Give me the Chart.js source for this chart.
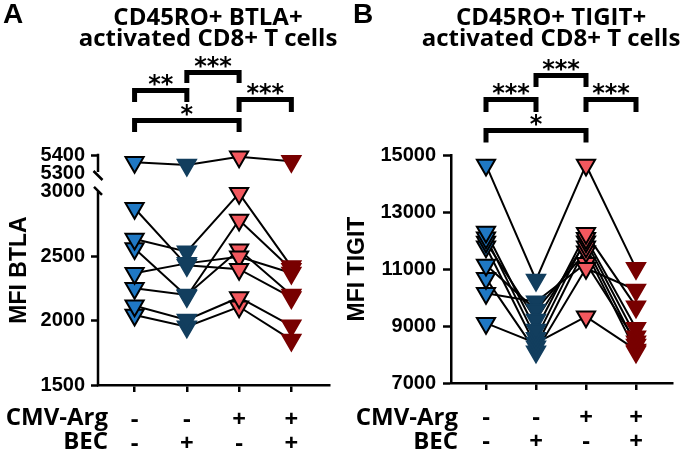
<!DOCTYPE html>
<html><head><meta charset="utf-8">
<script src="https://cdn.jsdelivr.net/npm/chart.js@4"></script>
<style>
html,body{margin:0;padding:0;background:#fff;}
#wrap{position:relative;width:685px;height:455px;overflow:hidden;background:#fff;}
canvas{position:absolute;top:0;}
#ca{left:0;} #cb{left:342px;}
</style></head><body>
<div id="wrap">
<canvas id="ca" width="342" height="455"></canvas>
<canvas id="cb" width="343" height="455"></canvas>
</div>
<script>
// ---------- data ----------
const categories = [0, 1, 2, 3];
const cmvArg = ['-', '-', '+', '+'];
const bec = ['-', '+', '-', '+'];
const rowNames = ['CMV-Arg', 'BEC'];

// Panel A: MFI BTLA (one subject sits above the axis break)
const btlaHigh = [
  [5360, 5345, 5390, 5365]
];
const btlaLow = [
  [2873, 2430, 2400, 2180],
  [2634, 2536, 2989, 2420],
  [2560, 2190, 2782, 2400],
  [2368, 2445, 2497, 2370],
  [2251, 2200, 2550, 2200],
  [2116, 2005, 2180, 1960],
  [2044, 1953, 2108, 1850]
];
const btlaTicks = [1500, 2000, 2500, 3000];
const btlaHighTicks = [5300, 5400];

// Panel B: MFI TIGIT
const tigit = [
  [14650, 10614, 14650, 11024],
  [12300, 8860, 12252, 9678],
  [12100, 8567, 12076, 8918],
  [11950, 9210, 11958, 8625],
  [11780, 8275, 11783, 8333],
  [11140, 9561, 11607, 8100],
  [10673, 8100, 11024, 10263],
  [10150, 9853, 11200, 8450],
  [9100, 8400, 9327, 8160]
];
const tigitTicks = [7000, 9000, 11000, 13000, 15000];

const fillColors = ['#1f78c4', '#123e5e', '#f2585e', '#780000'];
const edgeColors = ['#000000', '#123e5e', '#000000', '#780000'];

const sigA = [
  {from: 0, to: 1, label: '**'},
  {from: 1, to: 2, label: '***'},
  {from: 2, to: 3, label: '***'},
  {from: 0, to: 2, label: '*'}
];
const sigB = [
  {from: 0, to: 1, label: '***'},
  {from: 1, to: 2, label: '***'},
  {from: 2, to: 3, label: '***'},
  {from: 0, to: 2, label: '*'}
];

// ---------- helpers ----------
const TICK_FONT = {family: "'Liberation Sans', Arial, sans-serif", size: 20, weight: 'bold'};
const AXTITLE_FONT = {family: "'Liberation Sans', Arial, sans-serif", size: 23, weight: 'bold'};

function subjectDatasets(rows, axis) {
  const out = [];
  rows.forEach(r => {
    const pts = r.map((v, i) => ({x: categories[i], y: v}));
    out.push({data: pts, yAxisID: axis, showLine: true, borderColor: '#000', borderWidth: 2,
      pointRadius: 0, order: 2, clip: false});
    out.push({data: pts, yAxisID: axis, showLine: false, pointStyle: 'triangle', pointRotation: 180,
      pointRadius: 10.5, pointBackgroundColor: fillColors, pointBorderColor: edgeColors,
      pointBorderWidth: 2, order: 1, clip: false});
  });
  return out;
}

function xScale(h) {
  return {
    type: 'linear', min: -0.7, max: 3.73,
    afterBuildTicks: s => { s.ticks = categories.map(v => ({value: v})); },
    afterFit: s => { s.height = h; },
    ticks: {autoSkip: false, maxRotation: 0, color: '#000', padding: 16,
      font: {family: "'Open Sans', sans-serif", size: 24, weight: 'bold', lineHeight: 1},
      callback: v => [cmvArg[v], bec[v]]},
    grid: {drawOnChartArea: false, color: '#000', tickLength: 7, tickWidth: 2.5, lineWidth: 2.5},
    border: {color: '#000', width: 2.5}
  };
}

const decor = {
  id: 'decor',
  afterDraw(chart, args, o) {
    const ctx = chart.ctx, xs = chart.scales.x, ca = chart.chartArea;
    ctx.save();
    ctx.fillStyle = '#000';
    ctx.strokeStyle = '#000';
    ctx.textBaseline = 'alphabetic';
    // panel letter
    ctx.textAlign = 'left';
    ctx.font = "bold 28px 'Liberation Sans', Arial, sans-serif";
    ctx.fillText(o.letter, o.letterX, 23);
    // title
    ctx.textAlign = 'center';
    ctx.font = "bold 24px 'Open Sans', sans-serif";
    o.title.forEach((t, i) => ctx.fillText(t, o.titleX, 25 + i * 21));
    // significance brackets
    ctx.lineWidth = 5;
    ctx.lineJoin = 'miter';
    ctx.lineCap = 'butt';
    o.brackets.forEach((b, i) => {
      const x1 = xs.getPixelForValue(b.from), x2 = xs.getPixelForValue(b.to);
      const top = o.bracketTops[i], bot = top + o.legLength[i];
      ctx.beginPath();
      ctx.moveTo(x1, bot); ctx.lineTo(x1, top); ctx.lineTo(x2, top); ctx.lineTo(x2, bot);
      ctx.stroke();
      ctx.font = "bold 24px 'DejaVu Sans', sans-serif";
      const m = ctx.measureText(b.label);
      ctx.fillText(b.label, (x1 + x2) / 2, top - 4.5 - m.actualBoundingBoxDescent);
    });
    // row labels for the condition table
    ctx.textAlign = 'right';
    ctx.font = "bold 24px 'Open Sans', sans-serif";
    o.rows.forEach((r, i) => ctx.fillText(r, ca.left + o.rowOffset, o.rowBaselines[i]));
    // broken y axis
    if (o.broken) {
      const yl = chart.scales.y, yt = chart.scales.yTop, x = ca.left;
      const yTopPix = yt.getPixelForValue(btlaHighTicks[btlaHighTicks.length - 1]);
      const yBreakHi = yt.getPixelForValue(btlaHighTicks[0]);
      const yBreakLo = yl.getPixelForValue(btlaTicks[btlaTicks.length - 1]);
      ctx.lineWidth = 2.5;
      ctx.beginPath();
      ctx.moveTo(x, yTopPix - 1.25); ctx.lineTo(x, yBreakHi - 1);
      ctx.moveTo(x - 4.5, yBreakHi - 2); ctx.lineTo(x + 4.5, yBreakHi + 7);
      ctx.moveTo(x - 4, yBreakLo - 5); ctx.lineTo(x + 4, yBreakLo + 3);
      ctx.moveTo(x, yBreakLo - 1); ctx.lineTo(x, ca.bottom + 1.25);
      ctx.stroke();
    }
    ctx.restore();
  }
};

function common(padRight) {
  return {
    responsive: false, animation: false, events: [],
    layout: {padding: {top: 155, left: 0, right: padRight, bottom: 0}},
    plugins: {legend: {display: false}, tooltip: {enabled: false}, title: {display: false}}
  };
}

// ---------- Panel A ----------
const optA = common(12);
optA.scales = {
  x: xScale(70),
  yTop: {
    type: 'linear', position: 'left', weight: 0, min: 4122, max: 5400,
    afterBuildTicks: s => { s.ticks = btlaHighTicks.map(v => ({value: v})); },
    afterFit: s => { s.width = 0; s._computeLabelArea = () => undefined; },
    ticks: {color: '#000', padding: 6, font: TICK_FONT, callback: v => String(v)},
    grid: {drawOnChartArea: false, color: '#000', tickLength: 7, tickWidth: 2.5,
      tickColor: c => (c.tick && c.tick.value === btlaHighTicks[0]) ? 'rgba(0,0,0,0)' : '#000'},
    border: {display: false}
  },
  y: {
    type: 'linear', position: 'left', weight: 1, min: 1500, max: 3287,
    afterBuildTicks: s => { s.ticks = btlaTicks.map(v => ({value: v})); },
    afterFit: s => { s.width = 98; },
    ticks: {color: '#000', padding: 6, font: TICK_FONT, callback: v => String(v)},
    grid: {drawOnChartArea: false, color: '#000', tickLength: 7, tickWidth: 2.5,
      tickColor: c => (c.tick && c.tick.value === btlaTicks[btlaTicks.length - 1]) ? 'rgba(0,0,0,0)' : '#000'},
    border: {display: false},
    title: {display: true, text: 'MFI BTLA', color: '#000', font: AXTITLE_FONT, padding: {top: 6, bottom: 0}}
  }
};
optA.plugins.decor = {
  letter: 'A', letterX: 3, title: ['CD45RO+ BTLA+', 'activated CD8+ T cells'], titleX: 208,
  brackets: sigA, bracketTops: [90.5, 72.5, 99.5, 120.5], legLength: [11.5, 10.5, 12.5, 11.5],
  rows: rowNames, rowOffset: 10, rowBaselines: [425, 449], broken: true
};
new Chart(document.getElementById('ca'), {
  type: 'scatter',
  data: {datasets: [...subjectDatasets(btlaHigh, 'yTop'), ...subjectDatasets(btlaLow, 'y')]},
  options: optA,
  plugins: [decor]
});

// ---------- Panel B ----------
const optB = common(1);
optB.scales = {
  x: xScale(72),
  y: {
    type: 'linear', position: 'left', min: 7000, max: 15000,
    afterBuildTicks: s => { s.ticks = tigitTicks.map(v => ({value: v})); },
    afterFit: s => { s.width = 109; },
    ticks: {color: '#000', padding: 7, font: TICK_FONT, callback: v => String(v)},
    grid: {drawOnChartArea: false, color: '#000', tickLength: 8, tickWidth: 2.5},
    border: {color: '#000', width: 2.5},
    title: {display: true, text: 'MFI TIGIT', color: '#000', font: AXTITLE_FONT, padding: {top: 2, bottom: 0}}
  }
};
optB.plugins.decor = {
  letter: 'B', letterX: 11, title: ['CD45RO+ TIGIT+', 'activated CD8+ T cells'], titleX: 209,
  brackets: sigB, bracketTops: [99.5, 75.5, 99.5, 130.5], legLength: [12.5, 11.5, 12.5, 12],
  rows: rowNames, rowOffset: 7, rowBaselines: [425, 449], broken: false
};
new Chart(document.getElementById('cb'), {
  type: 'scatter',
  data: {datasets: subjectDatasets(tigit, 'y')},
  options: optB,
  plugins: [decor]
});
</script>
</body></html>
